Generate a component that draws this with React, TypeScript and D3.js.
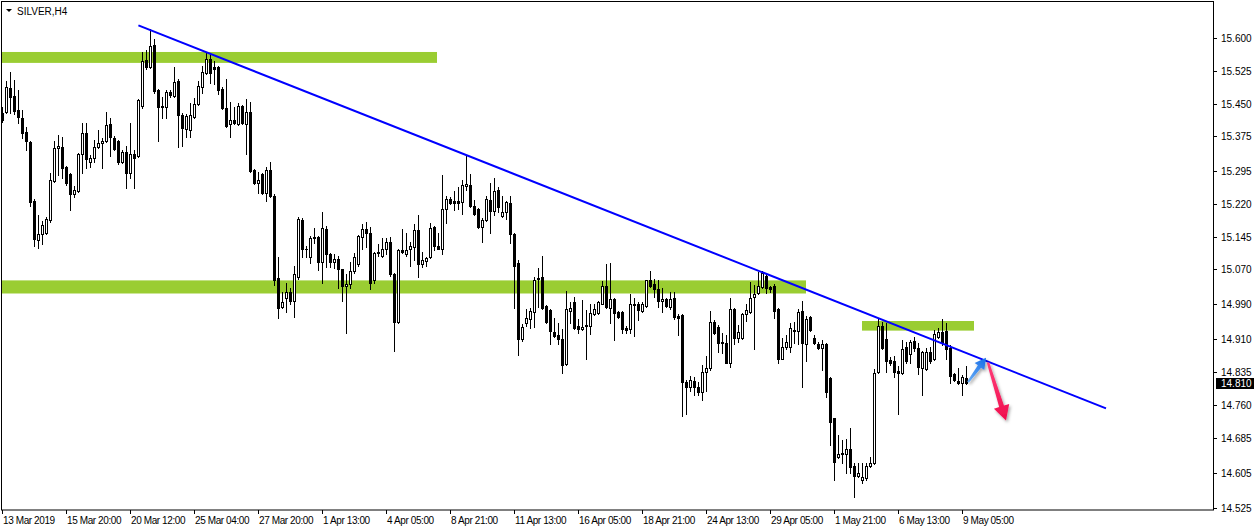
import React from 'react';
import * as d3 from 'd3';

// ---------------- DATA ----------------
const symbolTitle = 'SILVER,H4';

const opens = [
15.428,15.430,15.486,15.468,15.435,15.416,15.384,15.362,15.226,15.137,
15.151,15.153,15.183,15.273,15.348,15.350,15.304,15.288,15.242,15.249,
15.334,15.382,15.316,15.325,15.350,15.359,15.364,15.403,15.370,15.364,
15.316,15.339,15.290,15.334,15.330,15.444,15.550,15.533,15.584,15.481,
15.442,15.442,15.476,15.467,15.502,15.423,15.391,15.389,15.419,15.449,
15.488,15.520,15.552,15.533,15.533,15.483,15.440,15.403,15.412,15.403,
15.444,15.403,15.430,15.297,15.268,15.288,15.245,15.297,15.238,15.050,
14.983,15.005,15.018,14.997,15.052,15.183,15.118,15.098,15.142,15.144,
15.086,15.162,15.105,15.086,15.093,15.070,15.032,15.036,15.066,15.082,
15.144,15.162,15.153,15.045,15.110,15.100,15.116,15.132,15.059,14.950,
15.114,15.105,15.116,15.121,15.160,15.082,15.089,15.098,15.167,15.123,
15.118,15.208,15.231,15.226,15.226,15.224,15.261,15.263,15.215,15.208,
15.167,15.183,15.229,15.204,15.252,15.192,15.201,15.222,15.151,15.084,
14.911,14.947,14.956,14.972,15.050,15.052,14.986,14.977,14.927,14.920,
14.911,14.853,14.974,14.995,14.940,14.934,14.940,14.940,14.967,14.970,
14.992,15.032,14.981,15.002,14.972,14.972,14.936,14.933,14.990,14.992,
14.974,14.986,15.045,15.036,15.025,14.997,15.002,14.983,15.004,14.963,
14.965,14.812,14.800,14.814,14.800,14.789,14.835,14.844,14.950,14.939,
14.904,14.901,14.857,14.979,14.913,14.913,14.967,14.972,15.006,15.015,
15.029,15.054,15.029,15.032,14.979,14.866,14.892,14.892,14.929,14.929,
14.974,14.899,14.961,14.913,14.899,14.890,14.899,14.821,14.729,14.640,
14.647,14.647,14.658,14.619,14.596,14.587,14.592,14.619,14.626,14.835,
14.940,14.911,14.862,14.860,14.837,14.832,14.892,14.876,14.906,14.890,
14.844,14.841,14.880,14.864,14.915,14.927,14.929,14.890,14.830,14.814,
14.809,14.821
];

const highs = [
15.442,15.502,15.522,15.504,15.481,15.435,15.396,15.365,15.231,15.195,
15.181,15.190,15.290,15.364,15.378,15.373,15.306,15.290,15.261,15.336,
15.405,15.405,15.332,15.366,15.389,15.371,15.430,15.417,15.375,15.366,
15.343,15.352,15.405,15.343,15.460,15.568,15.573,15.621,15.598,15.484,
15.465,15.481,15.481,15.533,15.506,15.428,15.426,15.451,15.462,15.502,
15.536,15.566,15.566,15.547,15.535,15.488,15.506,15.453,15.442,15.451,
15.446,15.460,15.453,15.299,15.293,15.290,15.304,15.316,15.242,15.098,
15.018,15.038,15.027,15.077,15.190,15.187,15.123,15.146,15.165,15.146,
15.201,15.169,15.107,15.105,15.100,15.072,15.059,15.086,15.107,15.148,
15.174,15.178,15.167,15.109,15.128,15.142,15.142,15.144,15.061,15.116,
15.162,15.153,15.132,15.174,15.194,15.109,15.098,15.176,15.169,15.153,
15.286,15.238,15.236,15.249,15.259,15.275,15.330,15.288,15.229,15.210,
15.188,15.238,15.268,15.279,15.259,15.238,15.226,15.238,15.153,15.091,
14.946,14.979,14.981,15.052,15.073,15.100,14.988,14.979,14.958,14.947,
14.933,15.020,14.995,15.006,14.956,15.000,14.977,14.990,14.990,14.997,
15.043,15.082,15.084,15.004,14.974,14.974,14.940,15.013,15.004,14.995,
14.995,15.047,15.066,15.048,15.045,15.027,15.004,15.018,15.018,14.967,
14.967,14.816,14.825,14.823,14.812,14.851,14.873,14.974,14.954,14.942,
14.924,14.920,15.004,14.981,14.942,14.970,14.990,15.041,15.034,15.064,
15.066,15.061,15.032,15.036,14.981,14.913,14.920,14.947,14.950,14.979,
14.997,14.963,14.963,14.920,14.904,14.908,14.901,14.823,14.731,14.690,
14.679,14.681,14.708,14.626,14.628,14.626,14.626,14.640,14.841,14.958,
14.950,14.947,14.869,14.871,14.848,14.908,14.904,14.908,14.915,14.901,
14.883,14.890,14.892,14.931,14.936,14.956,14.947,14.897,14.832,14.844,
14.828,14.848
];

const lows = [
15.407,15.428,15.428,15.426,15.405,15.371,15.343,15.215,15.123,15.119,
15.128,15.151,15.178,15.270,15.286,15.279,15.263,15.206,15.236,15.247,
15.290,15.302,15.304,15.316,15.348,15.302,15.362,15.330,15.343,15.311,
15.313,15.256,15.279,15.256,15.328,15.440,15.530,15.531,15.474,15.364,
15.417,15.417,15.465,15.465,15.350,15.352,15.373,15.373,15.417,15.446,
15.474,15.518,15.497,15.495,15.472,15.437,15.396,15.373,15.403,15.400,
15.403,15.334,15.293,15.265,15.245,15.243,15.226,15.236,15.034,14.958,
14.981,14.972,14.992,14.962,15.048,15.098,15.098,15.084,15.130,15.068,
15.038,15.075,15.075,15.073,15.027,14.997,14.924,15.027,15.063,15.079,
15.116,15.121,15.025,15.038,15.100,15.098,15.105,15.054,14.883,14.947,
15.107,15.100,15.077,15.091,15.052,15.075,15.077,15.096,15.114,15.116,
15.105,15.176,15.219,15.206,15.208,15.197,15.252,15.213,15.194,15.165,
15.132,15.181,15.153,15.194,15.201,15.190,15.185,15.130,14.981,14.875,
14.907,14.940,14.936,14.938,14.983,14.979,14.948,14.899,14.915,14.899,
14.832,14.851,14.947,14.934,14.924,14.931,14.864,14.922,14.965,14.968,
14.990,14.981,14.947,14.908,14.958,14.924,14.924,14.924,14.917,14.954,
14.972,14.983,15.029,15.006,14.983,14.972,14.983,14.979,14.956,14.920,
14.734,14.738,14.791,14.782,14.782,14.772,14.791,14.839,14.922,14.882,
14.878,14.855,14.846,14.899,14.904,14.911,14.951,14.970,14.889,15.013,
15.027,15.015,15.018,14.958,14.857,14.864,14.887,14.880,14.901,14.899,
14.800,14.860,14.929,14.899,14.887,14.839,14.777,14.667,14.589,14.638,
14.626,14.603,14.603,14.550,14.594,14.582,14.589,14.617,14.624,14.832,
14.887,14.835,14.851,14.823,14.740,14.830,14.857,14.857,14.883,14.830,
14.782,14.839,14.857,14.862,14.913,14.897,14.864,14.809,14.814,14.807,
14.782,14.807
];

const closes = [
15.412,15.488,15.465,15.433,15.419,15.382,15.364,15.224,15.139,15.151,
15.172,15.185,15.275,15.348,15.352,15.302,15.268,15.242,15.252,15.334,
15.382,15.322,15.325,15.350,15.359,15.364,15.400,15.373,15.345,15.316,
15.339,15.290,15.334,15.325,15.458,15.547,15.533,15.582,15.479,15.442,
15.444,15.476,15.470,15.499,15.423,15.394,15.421,15.423,15.449,15.490,
15.522,15.552,15.520,15.530,15.481,15.440,15.398,15.412,15.405,15.444,
15.405,15.430,15.295,15.268,15.275,15.245,15.297,15.238,15.045,14.981,
14.995,15.018,14.997,15.059,15.185,15.116,15.116,15.142,15.144,15.086,
15.165,15.105,15.086,15.093,15.070,15.032,15.036,15.066,15.098,15.146,
15.162,15.153,15.038,15.107,15.107,15.116,15.132,15.059,14.950,15.114,
15.109,15.114,15.123,15.160,15.082,15.091,15.096,15.165,15.123,15.118,
15.208,15.231,15.222,15.222,15.222,15.263,15.265,15.215,15.197,15.167,
15.183,15.231,15.204,15.249,15.213,15.201,15.224,15.151,15.077,14.911,
14.939,14.958,14.974,15.045,15.048,14.981,14.950,14.929,14.917,14.911,
14.851,14.979,14.981,14.936,14.933,14.939,14.942,14.970,14.979,14.995,
15.032,14.983,15.002,14.970,14.961,14.933,14.931,14.990,14.988,14.977,
14.992,15.045,15.032,15.025,14.997,15.002,14.986,15.002,14.961,14.958,
14.812,14.802,14.818,14.800,14.789,14.835,14.844,14.950,14.924,14.901,
14.901,14.857,14.979,14.913,14.927,14.967,14.977,15.004,15.013,15.032,
15.061,15.027,15.025,14.974,14.866,14.892,14.904,14.936,14.931,14.972,
14.901,14.956,14.931,14.901,14.890,14.899,14.789,14.720,14.630,14.647,
14.649,14.658,14.617,14.596,14.605,14.594,14.621,14.628,14.832,14.940,
14.890,14.860,14.855,14.835,14.832,14.887,14.860,14.904,14.890,14.846,
14.880,14.880,14.860,14.922,14.927,14.904,14.887,14.825,14.818,14.809,
14.823,14.810
];

const timeLabels = [
  '13 Mar 2019', '15 Mar 20:00', '20 Mar 12:00', '25 Mar 04:00', '27 Mar 20:00',
  '1 Apr 13:00', '4 Apr 05:00', '8 Apr 21:00', '11 Apr 13:00', '16 Apr 05:00',
  '18 Apr 21:00', '24 Apr 13:00', '29 Apr 05:00', '1 May 21:00', '6 May 13:00',
  '9 May 05:00'
];
const timeLabelStep = 16; // bars between time labels

const priceTicks = [
  15.600, 15.525, 15.450, 15.375, 15.295, 15.220, 15.145, 15.070,
  14.990, 14.910, 14.835, 14.760, 14.685, 14.605, 14.525
];
const lastPrice = 14.810;

// support/resistance zones (bar index range, price range)
const zoneFrom = [-2, -2, 215];
const zoneTo = [108.75, 201, 243];
const zoneTop = [15.568, 15.045, 14.952];
const zoneBottom = [15.543, 15.015, 14.930];

// trend line (bar index, price)
const trendIndex = [34.1, 276];
const trendPrice = [15.629, 14.752];

// annotation arrows (bar index, price)
const upArrowIndex = [241.5, 246];
const upArrowPrice = [14.812, 14.868];
const downArrowIndex = [246.5, 251];
const downArrowPrice = [14.857, 14.724];

// ---------------- LAYOUT ----------------
const W = 1254;
const H = 529;
const plotLeft = 1.5;
const plotTop = 1.5;
const plotRight = 1213.5;
const plotBottom = 510;
const FONT = '"Liberation Sans", Arial, sans-serif';

const xScale = d3.scaleLinear().domain([0, 303]).range([2, 1214]);
const yScale = d3.scaleLinear().domain([14.525, 15.6]).range([507.5, 38]);

function arrowPoints(x1: number, y1: number, x2: number, y2: number,
  sw0: number, sw: number, hl: number, hw: number): string {
  const dx = x2 - x1, dy = y2 - y1;
  const len = Math.hypot(dx, dy);
  const ux = dx / len, uy = dy / len;
  const nx = -uy, ny = ux;
  const bx = x2 - ux * hl, by = y2 - uy * hl;
  const pts = [
    [x1 + nx * sw0 / 2, y1 + ny * sw0 / 2],
    [bx + nx * sw / 2, by + ny * sw / 2],
    [bx + nx * hw / 2, by + ny * hw / 2],
    [x2, y2],
    [bx - nx * hw / 2, by - ny * hw / 2],
    [bx - nx * sw / 2, by - ny * sw / 2],
    [x1 - nx * sw0 / 2, y1 - ny * sw0 / 2],
  ];
  return pts.map(p => `${p[0].toFixed(2)},${p[1].toFixed(2)}`).join(' ');
}

export default function App() {
  const candles = opens.map((o, i) => {
    const c = closes[i];
    const x = Math.round(xScale(i));
    const yo = Math.round(yScale(o));
    const yc = Math.round(yScale(c));
    const yh = Math.round(yScale(highs[i]));
    const yl = Math.round(yScale(lows[i]));
    const top = Math.min(yo, yc);
    const bot = Math.max(yo, yc);
    const bull = c >= o;
    let body;
    if (bot - top < 2) {
      body = <rect x={x - 1} y={top} width={3} height={bot - top + 1} fill="#000" />;
    } else if (bull) {
      body = <rect x={x - 0.5} y={top + 0.5} width={2} height={bot - top} fill="#fff" stroke="#000" strokeWidth={1} />;
    } else {
      body = <rect x={x - 1} y={top} width={3} height={bot - top + 1} fill="#000" />;
    }
    return (
      <g key={i}>
        <rect x={x} y={yh} width={1} height={yl - yh + 1} fill="#000" />
        {body}
      </g>
    );
  });

  const zones = zoneFrom.map((f, k) => {
    const x1 = xScale(f);
    const x2 = xScale(zoneTo[k]);
    const y1 = yScale(zoneTop[k]);
    const y2 = yScale(zoneBottom[k]);
    return <rect key={k} x={x1} y={y1} width={x2 - x1} height={y2 - y1} fill="#9acd32" />;
  });

  const tx1 = xScale(trendIndex[0]), ty1 = yScale(trendPrice[0]);
  const tx2 = xScale(trendIndex[1]), ty2 = yScale(trendPrice[1]);

  const ua = [xScale(upArrowIndex[0]), yScale(upArrowPrice[0]), xScale(upArrowIndex[1]), yScale(upArrowPrice[1])];
  const da = [xScale(downArrowIndex[0]), yScale(downArrowPrice[0]), xScale(downArrowIndex[1]), yScale(downArrowPrice[1])];

  const yLast = yScale(lastPrice);

  return (
    <div>
      <style>{`body{margin:0;background:#fff;}`}</style>
      <svg width={W} height={H} style={{ display: 'block', background: '#fff' }} fontFamily={FONT}>
        <defs>
          <clipPath id="plotClip">
            <rect x={2} y={2} width={plotRight - 2.5} height={plotBottom - 2.5} />
          </clipPath>
          <linearGradient id="upGrad" gradientUnits="userSpaceOnUse" x1={ua[0]} y1={ua[1]} x2={ua[2]} y2={ua[3]}>
            <stop offset="0" stopColor="#6aaef5" />
            <stop offset="1" stopColor="#156de8" />
          </linearGradient>
          <linearGradient id="downGrad" gradientUnits="userSpaceOnUse" x1={da[0]} y1={da[1]} x2={da[2]} y2={da[3]}>
            <stop offset="0" stopColor="#ff3f7a" />
            <stop offset="1" stopColor="#f00c4c" />
          </linearGradient>
          <filter id="shadow" x="-50%" y="-50%" width="200%" height="200%">
            <feDropShadow dx="1.5" dy="2" stdDeviation="1.5" floodColor="#000" floodOpacity="0.35" />
          </filter>
        </defs>

        <g clipPath="url(#plotClip)">
          {zones}
          {candles}
          <line x1={tx1} y1={ty1} x2={tx2} y2={ty2} stroke="#0000ff" strokeWidth={2} />
          <polygon points={arrowPoints(ua[0], ua[1], ua[2], ua[3], 2, 4, 11, 12)} fill="url(#upGrad)" filter="url(#shadow)" />
          <polygon points={arrowPoints(da[0], da[1], da[2], da[3], 2.5, 5, 15, 16)} fill="url(#downGrad)" filter="url(#shadow)" />
        </g>

        {/* frame */}
        <rect x={plotLeft} y={plotTop} width={plotRight - plotLeft} height={plotBottom - plotTop} fill="none" stroke="#000" strokeWidth={1} />

        {/* title */}
        <polygon points="6,9 12,9 9,12" fill="#000" />
        <text x={17} y={15} fontSize={10} fill="#000">{symbolTitle}</text>

        {/* price axis */}
        {priceTicks.map((p, k) => {
          const y = Math.round(yScale(p));
          return (
            <g key={k}>
              <rect x={1214} y={y} width={3} height={1} fill="#000" />
              <text x={1221} y={y + 4} fontSize={10} fill="#000">{p.toFixed(3)}</text>
            </g>
          );
        })}
        <rect x={1216} y={Math.round(yLast) - 5} width={38} height={11} fill="#000" />
        <text x={1221} y={Math.round(yLast) + 4} fontSize={10} fill="#fff">{lastPrice.toFixed(3)}</text>

        {/* time axis */}
        {timeLabels.map((t, k) => {
          const x = Math.round(xScale(k * timeLabelStep));
          return (
            <g key={k}>
              <rect x={x} y={510} width={1} height={4} fill="#000" />
              <text x={x + 1} y={524} fontSize={10} letterSpacing={-0.4} fill="#000">{t}</text>
            </g>
          );
        })}
      </svg>
    </div>
  );
}
